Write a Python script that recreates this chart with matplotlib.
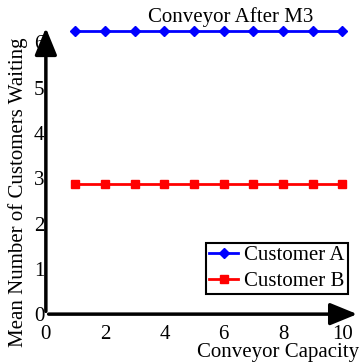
import matplotlib
matplotlib.use("Agg")
import matplotlib.pyplot as plt

capacity = [1, 2, 3, 4, 5, 6, 7, 8, 9, 10]
customer_a = [6.25, 6.25, 6.25, 6.25, 6.25, 6.25, 6.25, 6.25, 6.25, 6.25]
customer_b = [2.87, 2.87, 2.87, 2.87, 2.87, 2.87, 2.87, 2.87, 2.87, 2.87]
xticks = [0, 2, 4, 6, 8, 10]
yticks = [0, 1, 2, 3, 4, 5, 6]

plt.rcParams['font.family'] = ['Liberation Serif', 'DejaVu Serif']
plt.rcParams['font.size'] = 15

fig = plt.figure(figsize=(3.64, 3.64), dpi=100)
ax = fig.add_axes([0.126, 0.137, 0.863, 0.794])

ax.plot(capacity, customer_a, color='blue', lw=2, marker='D', ms=5, label='Customer A')
ax.plot(capacity, customer_b, color='red', lw=2, marker='s', ms=6, label='Customer B')

ax.set_xlim(0, 10.6)
ax.set_ylim(0, 6.38)
ax.set_xticks(xticks)
ax.set_yticks(yticks)
ax.tick_params(axis='x', length=0, pad=8)
ax.tick_params(axis='y', length=0, pad=1)

for s in ax.spines.values():
    s.set_visible(False)

# axes drawn as arrows
arrow = dict(arrowstyle='-|>,head_length=1.1,head_width=0.45', color='black', lw=2.5)
ax.annotate('', xy=(1.0, 0), xytext=(0, 0), xycoords='axes fraction', arrowprops=arrow)
ax.annotate('', xy=(0, 1.0), xytext=(0, 0), xycoords='axes fraction', arrowprops=arrow)

ax.text(0.589, 1.028, 'Conveyor After M3', transform=ax.transAxes, ha='center', va='center')
fig.text(278 / 364, 1 - 353 / 364, 'Conveyor Capacity', ha='center', va='center')
fig.text(18 / 364, 1 - 192 / 364, 'Mean Number of Customers Waiting', ha='center', va='center', rotation=90)

leg = ax.legend(loc='lower right', bbox_to_anchor=(0.962, 0.069), fancybox=False, framealpha=1,
                edgecolor='black', borderpad=0.15, labelspacing=0.3, handlelength=1.4,
                handletextpad=0.3, borderaxespad=0)
leg.get_frame().set_linewidth(1.5)

fig.savefig('out.png', dpi=100)
